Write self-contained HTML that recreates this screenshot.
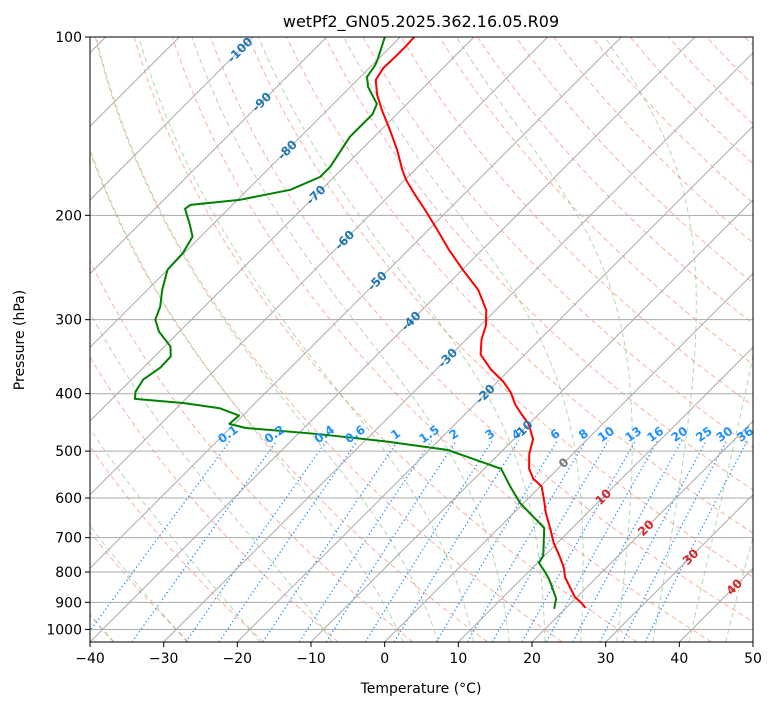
<!DOCTYPE html>
<html><head><meta charset="utf-8"><style>
html,body{margin:0;padding:0;background:#fff;}
svg{display:block;font-family:"DejaVu Sans","Liberation Sans",sans-serif;}
</style></head><body>
<svg id="chart" width="775" height="708" xmlns="http://www.w3.org/2000/svg">
<defs><clipPath id="clip"><rect x="90" y="37" width="663" height="605"/></clipPath></defs>
<rect x="0" y="0" width="775" height="708" fill="#fff"/>
<text x="421" y="27" text-anchor="middle" font-size="16">wetPf2_GN05.2025.362.16.05.R09</text>
<g id="bg" clip-path="url(#clip)"></g>
<g id="prof" clip-path="url(#clip)"></g>
<g id="lbl"></g>
<rect x="90" y="37" width="663" height="605" fill="none" stroke="#000" stroke-width="1"/>
<g id="axes"></g>
<text x="421" y="693" text-anchor="middle" font-size="14">Temperature (°C)</text>
<text x="24" y="340" text-anchor="middle" font-size="14" transform="rotate(-90 24 340)">Pressure (hPa)</text>
</svg>
<script>
// ---- data ----
const tempP = [100,104,108.1,112.8,118.2,125.2,132.8,143.5,155.1,167.6,174.3,184.6,195.7,211.6,228.7,247.2,267.2,288.8,306,324.2,343.5,363.9,381.9,398.5,417.3,433.5,450.4,477.2,505.6,535.6,556.5,573.8,600.8,636.5,674.4,714.4,750.8,785.9,816.5,848.3,881.3,901.8,919.4];
const tempT = [-78.1,-78,-78,-78.1,-77.5,-75.3,-72.6,-68.8,-65.1,-61.7,-59.8,-56.6,-53.2,-48.8,-44.5,-39.9,-35.1,-31.3,-29.3,-27.9,-26,-22.6,-19.2,-16.7,-14.5,-12.3,-10,-7.4,-5.9,-3.9,-2,0.2,2.1,4.4,7,9.5,12,14.2,15.7,17.7,19.7,21.4,22.6];
const dewP = [100,109.3,111.5,116.8,121.4,129.7,134.9,147.4,165.6,172.3,181.1,188.2,192,195,206.9,217.3,231.4,247.2,267.2,285.1,299.9,314.1,332.9,346.1,361.4,378.7,396.9,408.2,414.8,423.3,435.5,449.8,457,468.2,481.7,497.6,515.9,535.6,574.4,611.6,654.1,674.4,750.5,772,801.8,822.8,857.7,887.3,923];
const dewT = [-82.1,-80,-79.6,-79.1,-77.6,-74.1,-73.3,-73.3,-71.9,-71.9,-74.2,-79.6,-85.7,-85.9,-83.2,-81.1,-80.2,-80,-78,-76,-74.9,-72.8,-69.2,-67.8,-67.7,-68.4,-67.8,-66.9,-59.8,-54.1,-50.5,-50.7,-47.9,-37.1,-27,-17.6,-12.7,-7.7,-4,-0.5,4.1,6.2,9.8,10.2,12.4,13.8,15.8,17.4,18.5];
const xTicks = [-40,-30,-20,-10,0,10,20,30,40,50];
const pTicks = [100,200,300,400,500,600,700,800,900,1000];
const isoLabels = [-100,-90,-80,-70,-60,-50,-40,-30,-20,-10,0,10,20,30,40];
const mixRatios = [0.1,0.2,0.4,0.6,1,1.5,2,3,4,6,8,10,13,16,20,25,30,36];
const dryT0 = [];
for (let t=-40;t<=250;t+=10) dryT0.push(t);
const moistT0 = [-40,-30,-20,-10,0,5,10,15,20,25,30,35,40,45,50];

// ---- axes functions ----
const X0=90,X1=753,Y0=37,Y1=642,TMIN=-40,TMAX=50,PTOP=100,PBOT=1050;
const yS = p => Y0 + (Y1-Y0)*Math.log10(p/PTOP)/Math.log10(PBOT/PTOP);
const xS = (T,p) => X0 + (T-TMIN)*(X1-X0)/(TMAX-TMIN) + (Y1 - yS(p));
const NS='http://www.w3.org/2000/svg';
function mk(tag,attrs,parent){const e=document.createElementNS(NS,tag);for(const k in attrs)e.setAttribute(k,attrs[k]);parent.appendChild(e);return e;}
const bg=document.getElementById('bg'),prof=document.getElementById('prof'),lbl=document.getElementById('lbl'),axes=document.getElementById('axes');
function pathFrom(ps,ts){return ps.map((p,i)=>(i?'L':'M')+xS(ts[i],p).toFixed(2)+','+yS(p).toFixed(2)).join('');}
const pGrid=[];for(let i=0;i<=60;i++)pGrid.push(PBOT*Math.pow(PTOP/PBOT,i/60));

// dry adiabats
dryT0.forEach(t0=>{
  const th=t0+273.15;
  const ts=pGrid.map(p=>th*Math.pow(p/1000,0.2857)-273.15);
  const e=mk('path',{d:pathFrom(pGrid,ts),fill:'none',stroke:'rgba(250,110,80,0.55)','stroke-width':1,'stroke-dasharray':'5,3.5'},bg);
  
  
});
// moist adiabats
function es(T){return 6.112*Math.exp(17.67*(T-273.15)/(T-29.65));}
function dTdlnp(T,p){const Rd=287.04,Cp=1005.7,Lv=2.501e6,eps=0.622;const e=es(T);const rs=eps*e/(p-e);return (Rd*T+Lv*rs)/(Cp+Lv*Lv*rs*eps/(Rd*T*T));}
function moist(t0,pEnd){
  let T=t0+273.15,p=1000;const ps=[p],ts=[t0];const n=80;const h=Math.log(pEnd/1000)/n;
  for(let i=0;i<n;i++){const lp=Math.log(p);
    const k1=dTdlnp(T,p),k2=dTdlnp(T+h*k1/2,Math.exp(lp+h/2)),k3=dTdlnp(T+h*k2/2,Math.exp(lp+h/2)),k4=dTdlnp(T+h*k3,Math.exp(lp+h));
    T+=h*(k1+2*k2+2*k3+k4)/6;p=Math.exp(lp+h);ps.push(p);ts.push(T-273.15);}
  return [ps,ts];
}
moistT0.forEach(t0=>{
  const up=moist(t0,100),dn=moist(t0,1050);
  const ps=dn[0].slice().reverse().concat(up[0].slice(1)),ts=dn[1].slice().reverse().concat(up[1].slice(1));
  const e=mk('path',{d:pathFrom(ps,ts),fill:'none',stroke:'rgba(60,160,60,0.4)','stroke-width':1,'stroke-dasharray':'5,3.5'},bg);
  
  
});
// mixing ratio lines
const mixTop=480;
function tdFromW(w,p){const e=p*w/(622+w);const l=Math.log(e/6.112);return 243.5*l/(17.67-l);}
mixRatios.forEach(w=>{
  const ps=[1050,900,800,700,600,mixTop];const ts=ps.map(p=>tdFromW(w,p));
  const e=mk('path',{d:pathFrom(ps,ts),fill:'none',stroke:'#1e90ff','stroke-width':1.3,'stroke-dasharray':'1.3,2.7'},bg);
  
  
  const x=xS(tdFromW(w,mixTop),mixTop),y=yS(mixTop)-3;
  const t=mk('text',{x:x.toFixed(1),y:y.toFixed(1),'font-size':12,'font-weight':'bold',fill:'#1e90ff','text-anchor':'middle',transform:`rotate(-35 ${x.toFixed(1)} ${y.toFixed(1)})`},lbl);
  t.textContent=String(w);
  
  
});
// isotherms
for(let T=-130;T<=50;T+=10){
  const e=mk('path',{d:pathFrom([1050,100],[T,T]),stroke:'#aaa','stroke-width':1},bg);
  
  
}
// pressure grid
pTicks.forEach(p=>{
  const y=yS(p);
  const e=mk('line',{x1:X0,x2:X1,y1:y,y2:y,stroke:'#aaa','stroke-width':1},bg);
  
  
});
// isotherm labels
const isoLabelY=[50,102,150,195,240,281,321,358,394,430,463,497,528,557,587];
isoLabels.forEach((T,i)=>{
  const y=isoLabelY[i];const p=PTOP*Math.pow(PBOT/PTOP,(y-Y0)/(Y1-Y0));const x=xS(T,p);
  const col=T<0?'#1f77b4':(T===0?'#777':'#d62728');
  const t=mk('text',{x:x.toFixed(1),y:(y+4).toFixed(1),'font-size':12,'font-weight':'bold',fill:col,'text-anchor':'middle',transform:`rotate(-45 ${x.toFixed(1)} ${y.toFixed(1)})`},lbl);
  t.textContent=String(T);
  
  
});
// profiles
const tl=mk('path',{d:pathFrom(tempP,tempT),fill:'none',stroke:'#ff0000','stroke-width':2,'stroke-linejoin':'round'},prof);


const dl=mk('path',{d:pathFrom(dewP,dewT),fill:'none',stroke:'#008000','stroke-width':2,'stroke-linejoin':'round'},prof);


// ticks
xTicks.forEach(T=>{
  const x=X0+(T-TMIN)*(X1-X0)/(TMAX-TMIN);
  const l=mk('line',{x1:x,x2:x,y1:Y1,y2:Y1+5,stroke:'#000'},axes);
  
  
  const t=mk('text',{x:x,y:Y1+21,'font-size':14,'text-anchor':'middle'},axes);
  t.textContent=(T<0?'\u2212'+(-T):String(T));
  
  
});
pTicks.forEach(p=>{
  const y=yS(p);
  const l=mk('line',{x1:X0-5,x2:X0,y1:y,y2:y,stroke:'#000'},axes);
  
  
  const t=mk('text',{x:X0-8,y:y+5,'font-size':14,'text-anchor':'end'},axes);
  t.textContent=String(p);
  
  
});
</script>
</body></html>
